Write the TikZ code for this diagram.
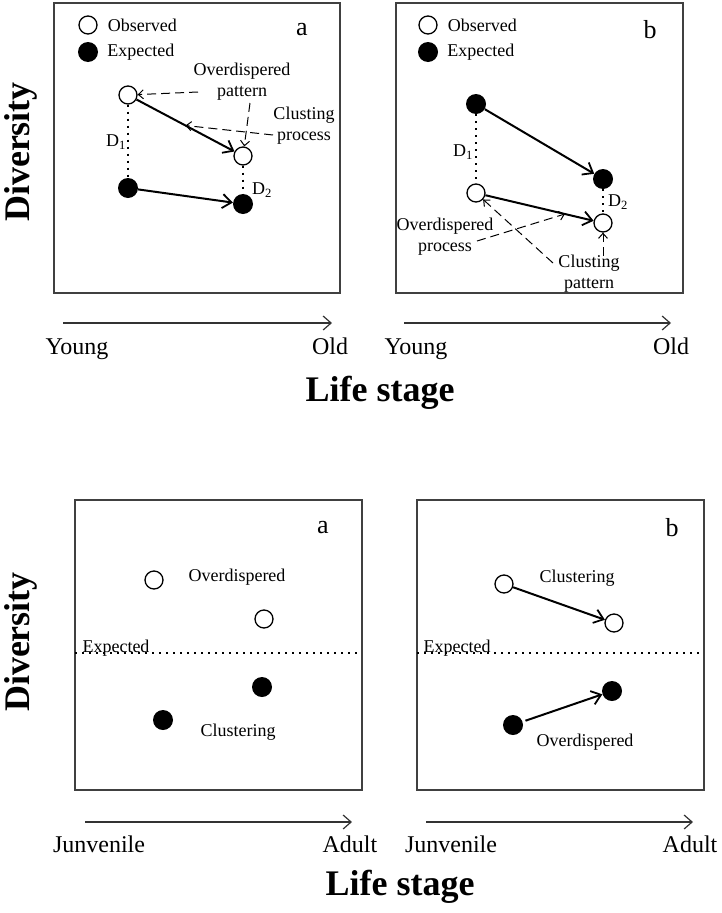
\documentclass[tikz,border=0pt]{standalone}
\usepackage{fontspec}
\setmainfont{Liberation Serif}
\usetikzlibrary{arrows.meta,positioning,calc}

\begin{document}
\begin{tikzpicture}[
  x=1pt, y=-1pt,
  panel/.style  = {draw=black!75, line width=1.4pt},
  obsdot/.style = {circle, draw, line width=1.3pt, fill=white,
                   minimum size=18pt, inner sep=0pt},
  expdot/.style = {circle, fill=black, minimum size=20pt, inner sep=0pt},
  lbl/.style    = {font=\fontsize{18}{21}\selectfont, inner sep=0pt},
  tag/.style    = {font=\fontsize{26}{28}\selectfont, inner sep=0pt},
  tick/.style   = {font=\fontsize{24}{26}\selectfont, inner sep=0pt, anchor=base},
  title/.style  = {font=\fontsize{36}{38}\selectfont\bfseries, inner sep=0pt},
  trend/.style  = {line width=2pt,
                   -{Straight Barb[length=9pt,width=14pt,line width=1.8pt]}},
  hint/.style   = {line width=1pt, dash pattern=on 9pt off 5pt,
                   -{Straight Barb[length=5pt,width=9pt]}},
  gap/.style    = {line width=2.2pt, dash pattern=on 2pt off 5pt},
  axis/.style   = {draw=black!80, line width=1.2pt,
                   -{Straight Barb[length=8pt,width=14pt]}},
]
\useasboundingbox (0,0) rectangle (722,913);

% ========== Top row, panel a ==========
\draw[panel] (54,3) rectangle (340,293);
\node[obsdot] (aLo) at (88,25) {};
\node[lbl, right=10pt of aLo] (aLoT) {Observed};
\node[expdot] (aLe) at (88,52) {};
\node[lbl, right=9pt of aLe] (aLeT) {Expected};
\node[tag] (aTag) at (302,30) {a};

\node[obsdot] (aO1) at (128,95)  {};
\node[obsdot] (aO2) at (243,156) {};
\node[expdot] (aE1) at (128,188) {};
\node[expdot] (aE2) at (243,204) {};

\draw[gap] (aO1) -- (aE1);
\draw[gap] (aO2) -- (aE2);
\draw[trend] (aO1) -- (aO2);
\draw[trend] (aE1) -- (aE2);

\node[lbl] (aD1) at (116,142) {D\textsubscript{1}};
\node[lbl] (aD2) at (262,190) {D\textsubscript{2}};

\node[lbl, align=center] (aOver) at (242,82)  {Overdispered\\pattern};
\node[lbl, align=center] (aClus) at (304,126) {Clusting\\process};

\coordinate (aH1) at (198,92);
\coordinate (aH2) at (250,103);
\coordinate (aH3) at (273,135);
\draw[hint] (aH1) -- (aO1);
\draw[hint] (aH2) -- (aO2);
\draw[hint] (aH3) -- ($(aO1)!0.5!(aO2)$);

% ========== Top row, panel b ==========
\draw[panel] (396,3) rectangle (683,293);
\node[obsdot] (bLo) at (428,25) {};
\node[lbl, right=10pt of bLo] (bLoT) {Observed};
\node[expdot] (bLe) at (428,52) {};
\node[lbl, right=9pt of bLe] (bLeT) {Expected};
\node[tag] (bTag) at (650,30) {b};

\node[expdot] (bE1) at (476,104) {};
\node[expdot] (bE2) at (603,179) {};
\node[obsdot] (bO1) at (476,193) {};
\node[obsdot] (bO2) at (603,223) {};

\draw[gap] (bE1) -- (bO1);
\draw[gap] (bE2) -- (bO2);
\draw[trend] (bE1) -- (bE2);
\draw[trend] (bO1) -- (bO2);

\node[lbl] (bD1) at (463,152) {D\textsubscript{1}};
\node[lbl] (bD2) at (618,202) {D\textsubscript{2}};

\node[lbl, align=center] (bOver) at (445,237) {Overdispered\\process};
\node[lbl, align=center] (bClus) at (589,274) {Clusting\\pattern};

\coordinate (bH1) at (477,241);
\coordinate (bH2) at (553,263);
\coordinate (bH3) at (603,256);
\draw[hint] (bH1) -- ($(bO1)!0.7!(bO2)$);
\draw[hint] (bH2) -- (bO1);
\draw[hint] (bH3) -- (bO2);

% ========== Top row, axes ==========
\coordinate (aX0) at (63,323);
\coordinate (aX1) at (332,323);
\coordinate (bX0) at (404,323);
\coordinate (bX1) at (671,323);
\draw[axis] (aX0) -- (aX1);
\draw[axis] (bX0) -- (bX1);
\node[tick] (aYoung) at (77,354)  {Young};
\node[tick] (aOld)   at (330,354) {Old};
\node[tick] (bYoung) at (416,354) {Young};
\node[tick] (bOld)   at (671,354) {Old};
\node[title] (topX) at (380,393) {Life stage};
\node[title, rotate=90] (topY) at (21,152) {Diversity};

% ========== Bottom row, panel a ==========
\draw[panel] (75,500) rectangle (362,790);
\node[tag] (cTag) at (323,528) {a};

\node[obsdot] (cOa) at (154,580) {};
\node[obsdot] (cOb) at (264,619) {};
\node[expdot] (cEa) at (262,687) {};
\node[expdot] (cEb) at (163,720) {};
\node[lbl] (cOver) at (237,577) {Overdispered};
\node[lbl] (cClus) at (238,732) {Clustering};

\coordinate (cL0) at (75,653);
\coordinate (cL1) at (360,653);
\draw[gap] (cL0) -- (cL1);
\node[lbl] (cExp) at (116,648) {Expected};

% ========== Bottom row, panel b ==========
\draw[panel] (417,500) rectangle (704,790);
\node[tag] (dTag) at (672,528) {b};

\node[obsdot] (dOa) at (504,584) {};
\node[obsdot] (dOb) at (614,623) {};
\node[expdot] (dEa) at (513,725) {};
\node[expdot] (dEb) at (612,691) {};
\draw[trend] (dOa) -- (dOb);
\draw[trend, shorten <=3pt] (dEa) -- (dEb);
\node[lbl] (dClus) at (577,578) {Clustering};
\node[lbl] (dOver) at (585,742) {Overdispered};

\coordinate (dL0) at (417,653);
\coordinate (dL1) at (700,653);
\draw[gap] (dL0) -- (dL1);
\node[lbl] (dExp) at (457,648) {Expected};

% ========== Bottom row, axes ==========
\coordinate (cX0) at (85,822);
\coordinate (cX1) at (352,822);
\coordinate (dX0) at (426,822);
\coordinate (dX1) at (693,822);
\draw[axis] (cX0) -- (cX1);
\draw[axis] (dX0) -- (dX1);
\node[tick] (cJuv)   at (99,852)  {Junvenile};
\node[tick] (cAdult) at (350,852) {Adult};
\node[tick] (dJuv)   at (451,852) {Junvenile};
\node[tick] (dAdult) at (690,852) {Adult};
\node[title] (botX) at (400,887) {Life stage};
\node[title, rotate=90] (botY) at (21,642) {Diversity};

\end{tikzpicture}
\end{document}
